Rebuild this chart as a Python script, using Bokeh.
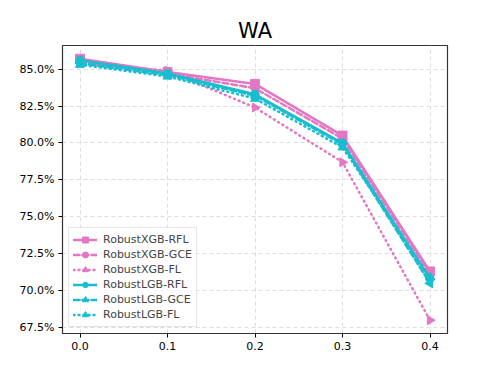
from bokeh.plotting import figure
from bokeh.embed import file_html
from bokeh.resources import INLINE
from bokeh.models import (Range1d, FixedTicker, CustomJSTickFormatter,
                          Legend, LegendItem, Title)

x = [0.0, 0.1, 0.2, 0.3, 0.4]
xgb_rfl = [85.7, 84.8, 84.0, 80.5, 71.3]
xgb_gce = [85.5, 84.7, 83.7, 80.3, 71.1]
xgb_fl = [85.4, 84.9, 82.4, 78.7, 68.0]
lgb_rfl = [85.6, 84.7, 83.3, 80.0, 70.8]
lgb_gce = [85.4, 84.6, 83.2, 79.9, 70.5]
lgb_fl = [85.3, 84.5, 83.0, 79.7, 70.9]
x_ticks = [0.0, 0.1, 0.2, 0.3, 0.4]
y_ticks = [67.5, 70.0, 72.5, 75.0, 77.5, 80.0, 82.5, 85.0]

PINK = "#e377c2"
CYAN = "#17becf"
FONT = "DejaVu Sans"

p = figure(width=482, height=358, output_backend="svg", toolbar_location=None,
           x_range=Range1d(-0.02, 0.42), y_range=Range1d(67.1, 86.6),
           min_border_left=62, min_border_right=35, min_border_top=45, min_border_bottom=25)
t = Title(text="WA", align="center", text_font=FONT, text_font_size="21px",
          text_font_style="normal", text_color="black", offset=0, standoff=6)
p.add_layout(t, "above")

p.outline_line_color = "#333333"
p.outline_line_width = 1.2
for g in (p.xgrid, p.ygrid):
    g.grid_line_color = "#dddddd"
    g.grid_line_dash = "4 3"
    g.grid_line_width = 1

p.xaxis.ticker = FixedTicker(ticks=x_ticks)
p.yaxis.ticker = FixedTicker(ticks=y_ticks)
p.xaxis.formatter = CustomJSTickFormatter(code="return tick.toFixed(1);")
p.yaxis.formatter = CustomJSTickFormatter(code="return tick.toFixed(1) + '%';")
for ax in (p.xaxis, p.yaxis):
    ax.axis_line_color = None
    ax.major_tick_line_color = "black"
    ax.major_tick_in = 0
    ax.major_tick_out = 4
    ax.minor_tick_line_color = None
    ax.major_label_text_font = FONT
    ax.major_label_text_font_size = "11px"
    ax.major_label_text_color = "black"
    ax.major_label_standoff = 4

series = [
    ("RobustXGB-RFL", xgb_rfl, PINK, "solid", "square", 0.0),
    ("RobustXGB-GCE", xgb_gce, PINK, "6 3", "circle", 0.0),
    ("RobustXGB-FL", xgb_fl, PINK, "1 4", "triangle", -1.5708),
    ("RobustLGB-RFL", lgb_rfl, CYAN, "solid", "hex", 0.0),
    ("RobustLGB-GCE", lgb_gce, CYAN, "6 3", "triangle", 1.5708),
    ("RobustLGB-FL", lgb_fl, CYAN, "1 4", "triangle", 0.0),
]

items = []
for name, ys, col, dash, marker, ang in series:
    l = p.line(x, ys, line_color=col, line_width=2.5, line_dash=dash, line_cap="round")
    s = p.scatter(x, ys, marker=marker, size=9 if marker != "circle" else 8,
                  angle=[ang] * len(x), angle_units="rad", fill_color=col, line_color=col)
    items.append(LegendItem(label=name, renderers=[l, s], index=0))

leg = Legend(items=items, location="bottom_left", margin=6, padding=4, spacing=0,
             glyph_height=15, glyph_width=24, label_height=15, label_standoff=6,
             label_text_font=FONT, label_text_font_size="11px",
             border_line_color="#cccccc", border_line_width=1, background_fill_alpha=0.8)
p.add_layout(leg, "center")

open("out.html", "w").write(file_html(p, INLINE))
